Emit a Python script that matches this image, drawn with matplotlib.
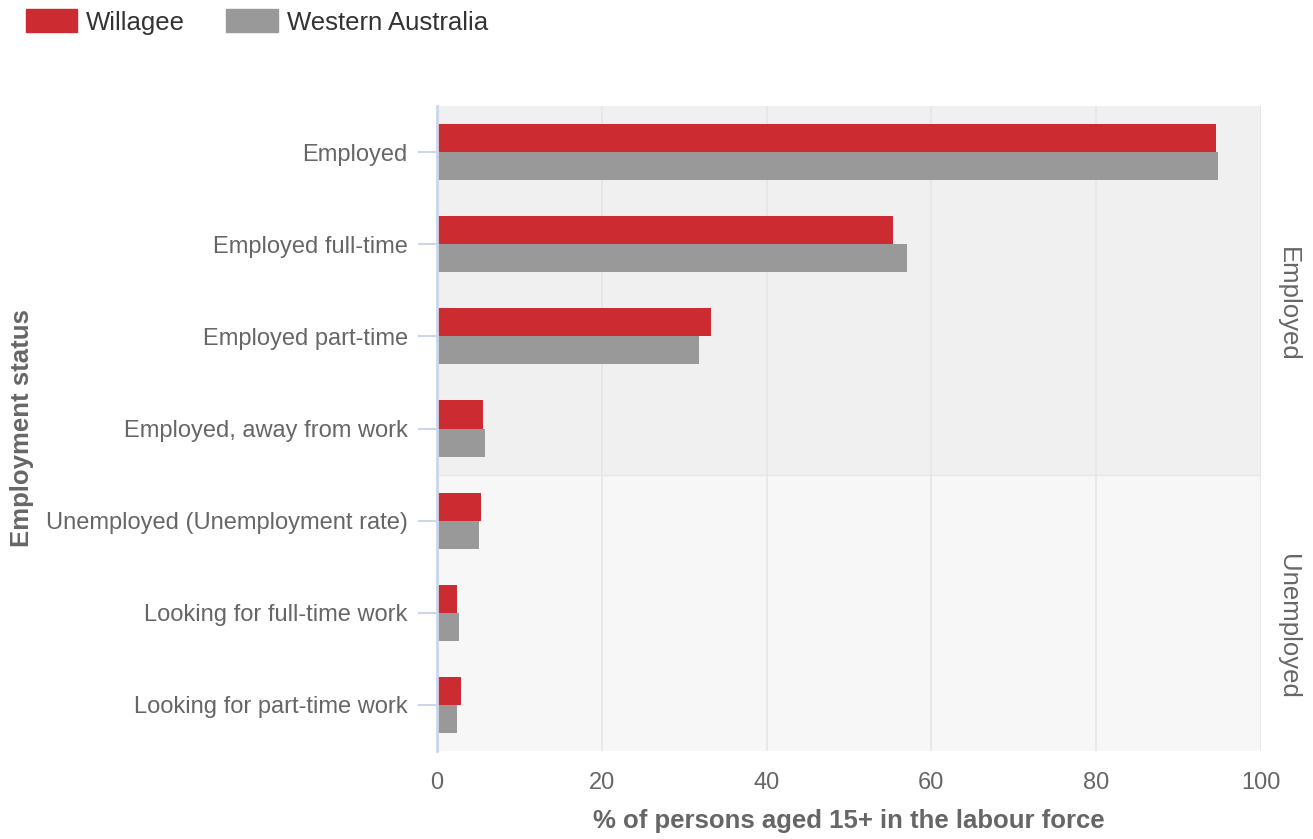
import matplotlib
matplotlib.use("Agg")
import matplotlib.pyplot as plt
from matplotlib.patches import Patch
import numpy as np

plt.rcParams['font.family'] = ['Liberation Sans', 'DejaVu Sans']

categories = ["Employed", "Employed full-time", "Employed part-time",
              "Employed, away from work", "Unemployed (Unemployment rate)",
              "Looking for full-time work", "Looking for part-time work"]
willagee = [94.5, 55.3, 33.3, 5.6, 5.3, 2.4, 2.9]
western_australia = [94.8, 57.0, 31.8, 5.8, 5.1, 2.7, 2.4]
series_names = ["Willagee", "Western Australia"]
groups = [("Employed", 0, 3), ("Unemployed", 4, 6)]
x_ticks = [0, 20, 40, 60, 80, 100]

red = "#cd2b32"
grey = "#999999"
text_grey = "#666666"
axis_blue = "#ccd6eb"

fig = plt.figure(figsize=(13.13, 8.39), dpi=100)
ax = fig.add_axes([437 / 1313, 1 - 751 / 839, (1261 - 437) / 1313, (751 - 106) / 839])

y = np.arange(len(categories))
h = 0.305
ax.barh(y - h / 2, willagee, height=h, color=red, zorder=3)
ax.barh(y + h / 2, western_australia, height=h, color=grey, zorder=3)

# group bands
band_colors = ["#f0f0f0", "#f7f7f7"]
for (name, start, end), c in zip(groups, band_colors):
    ax.axhspan(start - 0.5, end + 0.5, color=c, zorder=0, lw=0)
    ax.text(1.02 + 0.013, 1 - ((start + end) / 2 + 0.65) / len(categories), name,
            transform=ax.transAxes, rotation=-90, ha="center", va="center",
            fontsize=18.5, color=text_grey)
ax.axhline(groups[0][2] + 0.5, color="#e6e6e6", lw=1, zorder=1)

ax.set_ylim(len(categories) - 0.5, -0.5)
ax.set_xlim(0, 100)
ax.set_xticks(x_ticks)
ax.set_yticks(y)
ax.set_yticklabels(categories)
ax.xaxis.grid(True, color="#e6e6e6", lw=1.2, zorder=1)
ax.set_axisbelow(True)

for s in ["top", "right", "bottom"]:
    ax.spines[s].set_visible(False)
ax.spines["left"].set_color(axis_blue)
ax.spines["left"].set_linewidth(2)
ax.spines["left"].set_zorder(4)

ax.tick_params(axis="y", length=14, width=1.5, color=axis_blue, pad=7,
               labelsize=17, labelcolor=text_grey)
ax.tick_params(axis="x", length=0, pad=15, labelsize=17, labelcolor=text_grey)

fig.text(849 / 1313, 1 - 821 / 839, "% of persons aged 15+ in the labour force",
         ha="center", va="center", fontsize=18.5, fontweight="bold", color=text_grey)
fig.text(22 / 1313, 1 - 428 / 839, "Employment status", rotation=90,
         ha="center", va="center", fontsize=18.5, fontweight="bold", color=text_grey)

handles = [Patch(color=red), Patch(color=grey)]
fig.legend(handles, series_names, loc="center left", bbox_to_anchor=(26 / 1313, 1 - 22 / 839),
           ncol=2, frameon=False, fontsize=18.5, handlelength=2.0, handleheight=1.0,
           handletextpad=0.35, columnspacing=1.6, borderpad=0, borderaxespad=0,
           labelcolor="#333333")

fig.savefig("out.png", dpi=100)
